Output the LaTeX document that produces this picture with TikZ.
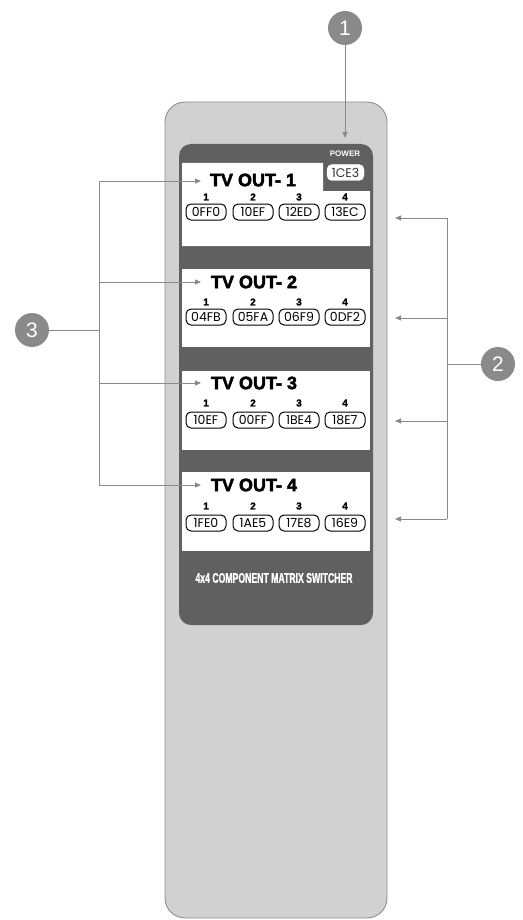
\documentclass[tikz,border=0pt]{standalone}
\usepackage{fontspec}
\usepackage{graphicx}
\setmainfont{Liberation Sans}
\newfontfamily\heavyfont{Liberation Sans}[BoldFeatures={FakeBold=2.5}]
\newfontfamily\numfont{Liberation Sans}[BoldFeatures={FakeBold=1.5}]
\newfontfamily\btnfont{Poppins}
\usetikzlibrary{arrows.meta}
\definecolor{bodyfill}{HTML}{D0D1D0}
\definecolor{bodyline}{HTML}{8E8E8E}
\definecolor{panelc}{HTML}{606060}
\definecolor{calloutc}{HTML}{8A8A8A}
\definecolor{leadc}{HTML}{8A8A8A}
\newcommand\btnrow[7]{%
  \node[num] (n#1a) at (206,#2) {1};
  \node[num] (n#1b) at (253,#2) {2};
  \node[num] (n#1c) at (299,#2) {3};
  \node[num] (n#1d) at (345,#2) {4};
  \node[btn] (b#1a) at (206,#3) {#4};
  \node[btn] (b#1b) at (253,#3) {#5};
  \node[btn] (b#1c) at (299,#3) {#6};
  \node[btn] (b#1d) at (345,#3) {#7};
}
\begin{document}
\begin{tikzpicture}[x=1pt,y=-1pt,
  lead/.style={draw=leadc, line width=0.9pt},
  arr/.style={lead, -{Triangle[length=6pt,width=5pt]}},
  callout/.style={circle, fill=calloutc, minimum size=34pt, inner sep=0pt, text=white, font=\fontsize{21}{21}\selectfont},
  btn/.style={draw=black, line width=1pt, rounded corners=5pt, fill=white, minimum width=40pt, minimum height=16pt, inner sep=0pt, font=\btnfont\fontsize{12.5}{12.5}\selectfont},
  num/.style={font=\numfont\bfseries\fontsize{10}{10}\selectfont, inner sep=0pt},
  title/.style={font=\heavyfont\bfseries\fontsize{18}{18}\selectfont, inner sep=0pt}]
\useasboundingbox (0,0) rectangle (522,920);
% remote body
\draw[fill=bodyfill, draw=bodyline, line width=0.9pt, rounded corners=20pt] (165,102) rectangle (387,918);
% dark panel
\fill[panelc, rounded corners=12pt] (179,144) rectangle (373,625);
% white sections
\fill[white] (182,163) -- (323,163) -- (323,191) -- (370,191) -- (370,246) -- (182,246) -- cycle;
\fill[white] (182,269) rectangle (370,347);
\fill[white] (182,371) rectangle (370,450);
\fill[white] (182,472) rectangle (370,551);
% power
\node[text=white, font=\bfseries\fontsize{8}{8}\selectfont, inner sep=0pt] (pwl) at (345,154) {POWER};
\node[draw=white, fill=white, rounded corners=5pt, minimum width=37pt, minimum height=16pt, inner sep=0pt, text=black!80, font=\btnfont\fontsize{12.5}{12.5}\selectfont] (pw) at (345.5,172.5) {1CE3};
% titles
\node[title] (t1) at (253,180) {TV OUT- 1};
\node[title] (t2) at (254,282) {TV OUT- 2};
\node[title] (t3) at (254,383) {TV OUT- 3};
\node[title] (t4) at (254,485) {TV OUT- 4};
% buttons
\btnrow{1}{197}{212}{0FF0}{10EF}{12ED}{13EC}
\btnrow{2}{302}{317}{04FB}{05FA}{06F9}{0DF2}
\btnrow{3}{403}{420}{10EF}{00FF}{1BE4}{18E7}
\btnrow{4}{506}{523}{1FE0}{1AE5}{17E8}{16E9}
% panel label
\node[text=white, inner sep=0pt] (lbl) at (274,578) {\scalebox{0.62}[1]{\numfont\bfseries\fontsize{14}{14}\selectfont 4x4 COMPONENT MATRIX SWITCHER}};
% callout 1
\node[callout] (c1) at (345,28) {1};
\coordinate (p1) at (345,138);
\draw[arr] (c1) -- (p1);
% callout 3
\node[callout] (c3) at (32,330) {3};
\coordinate (j3) at (99,330);
\coordinate (j3a) at (99,181);
\coordinate (j3b) at (99,282);
\coordinate (j3c) at (99,383);
\coordinate (j3d) at (99,485);
\coordinate (e3a) at (201,181);
\coordinate (e3b) at (201,282);
\coordinate (e3c) at (201,383);
\coordinate (e3d) at (201,485);
\draw[lead] (c3) -- (j3);
\draw[lead] (j3a) -- (j3d);
\draw[arr] (j3a) -- (e3a);
\draw[arr] (j3b) -- (e3b);
\draw[arr] (j3c) -- (e3c);
\draw[arr] (j3d) -- (e3d);
% callout 2
\node[callout] (c2) at (498,364) {2};
\coordinate (j2) at (447,364);
\coordinate (j2a) at (447,218);
\coordinate (j2b) at (447,318);
\coordinate (j2c) at (447,421);
\coordinate (j2d) at (447,519);
\coordinate (e2a) at (395,218);
\coordinate (e2b) at (395,318);
\coordinate (e2c) at (395,421);
\coordinate (e2d) at (395,519);
\draw[lead] (c2) -- (j2);
\draw[lead] (j2a) -- (j2d);
\draw[arr] (j2a) -- (e2a);
\draw[arr] (j2b) -- (e2b);
\draw[arr] (j2c) -- (e2c);
\draw[arr] (j2d) -- (e2d);
\end{tikzpicture}
\end{document}
